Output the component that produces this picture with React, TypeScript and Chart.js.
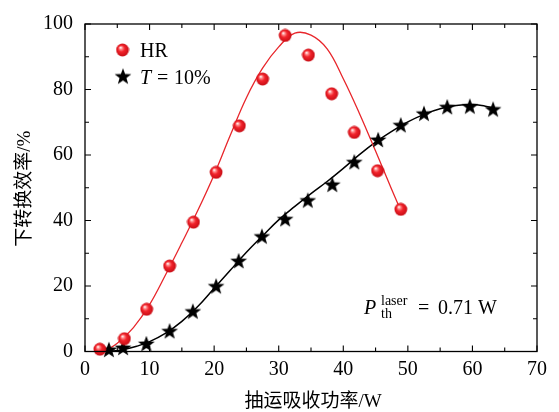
import React, { useEffect, useRef } from 'react';
import { Chart, registerables } from 'chart.js';

Chart.register(...registerables);

// ---- data ----
const hrX = [2.3, 6.1, 9.55, 13.1, 16.8, 20.3, 23.9, 27.5, 31.0, 34.6, 38.2, 41.7, 45.3, 48.9];
const hrY = [0.7, 3.9, 12.9, 26.1, 39.5, 54.7, 68.9, 83.2, 96.5, 90.5, 78.7, 66.9, 55.2, 43.4];

const tX = [3.7, 5.9, 9.5, 13.1, 16.7, 20.3, 23.8, 27.4, 31.0, 34.5, 38.3, 41.7, 45.4, 48.9, 52.5, 56.1, 59.6, 63.2];
const tY = [0.5, 1.1, 2.3, 6.2, 12.2, 19.9, 27.6, 35.1, 40.4, 46.1, 50.9, 57.8, 64.6, 69.1, 72.6, 74.6, 74.8, 73.9];

const hrFitX = [3.0, 5, 7.5, 10, 12.5, 15, 17.5, 20, 22.5, 25, 27.5, 30, 32.5, 35, 37.5, 40, 42.5, 45, 47.5, 48.6];
const hrFitY = [0, 2.5, 7.3, 14.3, 23.5, 33.2, 43.2, 54.0, 66.0, 77.5, 86.5, 93.0, 97.2, 96.6, 92.4, 83.3, 72.7, 61.2, 49.5, 44.4];

const tFitX = [4.0, 6, 8, 10, 12.5, 15, 17.5, 20, 22.5, 25, 27.5, 30, 32.5, 35, 37.5, 40, 42.5, 45, 47.5, 50, 52.5, 55, 57.5, 60, 62, 63.3];
const tFitY = [0, 0.6, 1.6, 3.0, 5.6, 9.2, 13.8, 19.3, 24.8, 30.3, 35.3, 40.2, 44.3, 48.2, 51.9, 55.9, 60.1, 63.9, 67.2, 70.1, 72.4, 74.1, 75.1, 75.4, 74.9, 74.4];

const xMajor = [0, 10, 20, 30, 40, 50, 60, 70];
const xMinor = [5, 15, 25, 35, 45, 55, 65];
const yMajor = [0, 20, 40, 60, 80, 100];
const yMinor = [10, 30, 50, 70, 90];

const legendLabels = ['HR', 'T', '= 10%'];
const xTitle = '抽运吸收功率/W';
const yTitle = '下转换效率/%';
const annotation = { main: 'P', sub: 'th', sup: 'laser', rest: '= 0.71 W' };

const SERIF = '"Liberation Serif", "Noto Sans CJK SC", serif';
const RED = '#e8262b';

function makeBall(): HTMLCanvasElement {
  const c = document.createElement('canvas');
  c.width = 14; c.height = 14;
  const ctx = c.getContext('2d')!;
  const g = ctx.createRadialGradient(5, 4.5, 0.3, 7, 7, 7);
  g.addColorStop(0, '#ffffff');
  g.addColorStop(0.18, '#ff8d8d');
  g.addColorStop(0.45, '#f2232b');
  g.addColorStop(1, '#c20a12');
  ctx.fillStyle = g;
  ctx.beginPath();
  ctx.arc(7, 7, 6.4, 0, Math.PI * 2);
  ctx.fill();
  return c;
}

function makeStar(): HTMLCanvasElement {
  const c = document.createElement('canvas');
  c.width = 20; c.height = 20;
  const ctx = c.getContext('2d')!;
  const R = 8.8, r = 3.6;
  ctx.fillStyle = '#000';
  ctx.beginPath();
  for (let i = 0; i < 10; i++) {
    const rad = i % 2 === 0 ? R : r;
    const a = -Math.PI / 2 + (i * Math.PI) / 5;
    const px = 10 + rad * Math.cos(a);
    const py = 10.5 + rad * Math.sin(a);
    if (i === 0) ctx.moveTo(px, py); else ctx.lineTo(px, py);
  }
  ctx.closePath();
  ctx.fill();
  return c;
}

export default function App() {
  const ref = useRef<HTMLCanvasElement>(null);

  useEffect(() => {
    const ball = makeBall();
    const star = makeStar();

    const deco = {
      id: 'deco',
      afterDraw(chart: any) {
        const { ctx, chartArea: a, scales } = chart;
        const xs = scales.x, ys = scales.y;
        ctx.save();
        ctx.strokeStyle = '#000';
        ctx.lineWidth = 1.3;
        ctx.strokeRect(a.left, a.top, a.right - a.left, a.bottom - a.top);
        ctx.lineWidth = 1.1;
        ctx.beginPath();
        const tickX = (v: number, len: number) => {
          const p = xs.getPixelForValue(v);
          ctx.moveTo(p, a.bottom); ctx.lineTo(p, a.bottom - len);
          ctx.moveTo(p, a.top); ctx.lineTo(p, a.top + len);
        };
        const tickY = (v: number, len: number) => {
          const p = ys.getPixelForValue(v);
          ctx.moveTo(a.left, p); ctx.lineTo(a.left + len, p);
          ctx.moveTo(a.right, p); ctx.lineTo(a.right - len, p);
        };
        xMajor.forEach((v) => tickX(v, 6));
        xMinor.forEach((v) => tickX(v, 4));
        yMajor.forEach((v) => tickY(v, 6));
        yMinor.forEach((v) => tickY(v, 4));
        ctx.stroke();

        // legend
        ctx.fillStyle = '#000';
        ctx.textBaseline = 'alphabetic';
        ctx.textAlign = 'left';
        ctx.drawImage(ball, 122.5 - 7, 50 - 7);
        ctx.font = `20px ${SERIF}`;
        ctx.fillText(legendLabels[0], 140, 57);
        ctx.drawImage(star, 123 - 10, 77 - 10.5);
        ctx.font = `italic 20px ${SERIF}`;
        ctx.fillText(legendLabels[1], 140, 84);
        ctx.font = `20px ${SERIF}`;
        ctx.fillText(legendLabels[2].slice(0, 1), 157, 84);
        ctx.fillText(legendLabels[2].slice(2), 174, 84);

        // annotation
        ctx.font = `italic 20px ${SERIF}`;
        ctx.fillText(annotation.main, 364, 314);
        ctx.font = `14px ${SERIF}`;
        ctx.fillText(annotation.sup, 381, 305);
        ctx.fillText(annotation.sub, 381, 318);
        ctx.font = `20px ${SERIF}`;
        ctx.fillText(annotation.rest.slice(0, 1), 418, 314);
        ctx.fillText(annotation.rest.slice(2), 438, 314);

        // axis titles
        ctx.textAlign = 'center';
        ctx.textBaseline = 'middle';
        ctx.font = `19px ${SERIF}`;
        ctx.fillText(xTitle, (a.left + a.right) / 2 + 2, 402);
        ctx.translate(25, (a.top + a.bottom) / 2 + 1);
        ctx.rotate(-Math.PI / 2);
        ctx.fillText(yTitle, 0, 0);
        ctx.restore();
      },
    };

    const toPts = (xs: number[], ys: number[]) => xs.map((x, i) => ({ x, y: ys[i] }));

    const chart = new Chart(ref.current!, {
      type: 'scatter',
      data: {
        datasets: [
          {
            label: 'HR',
            data: toPts(hrX, hrY),
            pointStyle: ball as any,
            pointRadius: 6,
            showLine: false,
            clip: false as any,
            order: 0,
          },
          {
            label: 'T = 10%',
            data: toPts(tX, tY),
            pointStyle: star as any,
            pointRadius: 8,
            showLine: false,
            clip: false as any,
            order: 1,
          },
          {
            label: 'HR fit',
            data: toPts(hrFitX, hrFitY),
            showLine: true,
            borderColor: RED,
            borderWidth: 1.3,
            pointRadius: 0,
            tension: 0.4,
            order: 2,
          },
          {
            label: 'T fit',
            data: toPts(tFitX, tFitY),
            showLine: true,
            borderColor: '#000',
            borderWidth: 1.5,
            pointRadius: 0,
            tension: 0.4,
            order: 3,
          },
        ],
      },
      options: {
        animation: false,
        responsive: false,
        devicePixelRatio: 1,
        layout: { padding: { left: 0, right: 22, top: 17, bottom: 0 } },
        plugins: { legend: { display: false }, tooltip: { enabled: false } },
        scales: {
          x: {
            type: 'linear',
            min: 0,
            max: 70,
            afterBuildTicks: (s: any) => { s.ticks = xMajor.map((v) => ({ value: v })); },
            afterFit: (s: any) => { s.height = 60.5; },
            grid: { display: false, drawTicks: false },
            border: { display: false },
            ticks: { color: '#000', font: { family: SERIF, size: 20 }, padding: 6, maxRotation: 0, autoSkip: false },
          },
          y: {
            type: 'linear',
            min: 0,
            max: 100,
            afterBuildTicks: (s: any) => { s.ticks = yMajor.map((v) => ({ value: v })); },
            afterFit: (s: any) => { s.width = 85; },
            grid: { display: false, drawTicks: false },
            border: { display: false },
            ticks: { color: '#000', font: { family: SERIF, size: 20 }, padding: 12, autoSkip: false },
          },
        },
      },
      plugins: [deco],
    });
    return () => chart.destroy();
  }, []);

  return (
    <div style={{ position: 'fixed', left: 0, top: 0, width: 559, height: 412, background: '#fff' }}>
      <canvas ref={ref} width={559} height={412} style={{ display: 'block', width: 559, height: 412 }} />
    </div>
  );
}
